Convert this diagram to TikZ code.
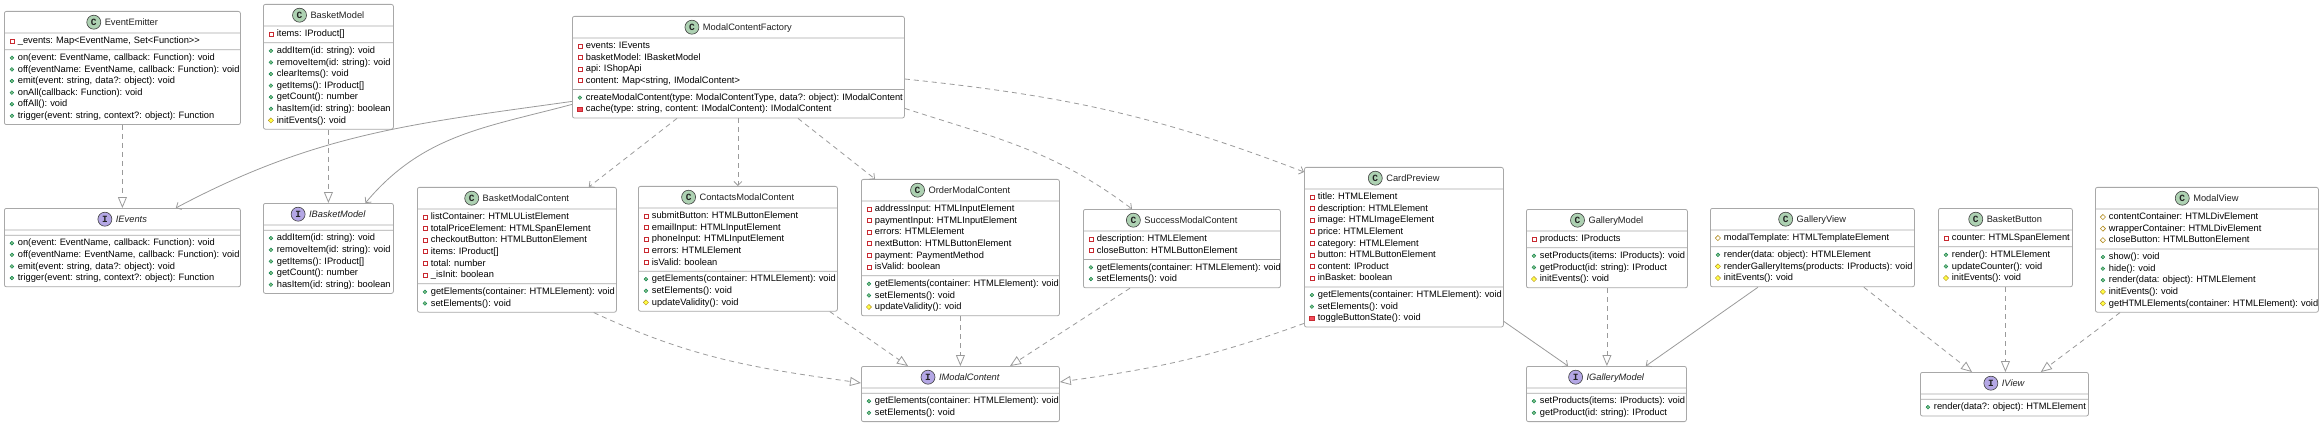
\documentclass[tikz,border=0pt]{standalone}
\usepackage{fontspec}
\setmainfont{Liberation Sans}
\setmonofont{Liberation Mono}
\usetikzlibrary{arrows.meta, shapes.multipart}
\definecolor{boxgray}{HTML}{A8A8A8}
\definecolor{linegray}{HTML}{9A9A9A}
\definecolor{textgray}{HTML}{222222}
\definecolor{privred}{HTML}{C82930}
\definecolor{privfill}{HTML}{F24D5C}
\definecolor{pubgreen}{HTML}{038048}
\definecolor{pubfill}{HTML}{84BE84}
\definecolor{protbrown}{HTML}{B38D22}
\definecolor{protfill}{HTML}{FFFF44}
\definecolor{classfill}{HTML}{ADD1B2}
\definecolor{ifacefill}{HTML}{B4A7E5}
\setlength{\parindent}{0pt}
\frenchspacing

\newcommand{\spot}[2]{\makebox[14pt][c]{\tikz[baseline=-3.2pt]\draw[draw=black!75, fill=#1, line width=0.6pt] (0,0) circle (7pt);}\hspace*{-14pt}\makebox[14pt][c]{\fontsize{9.5}{9.5}\ttfamily\bfseries #2}}
\newcommand{\clshead}[1]{\makebox[\hsize][c]{\rule[-5pt]{0pt}{16.4pt}\spot{classfill}{C}\hspace{4pt}#1}}
\newcommand{\ifchead}[1]{\makebox[\hsize][c]{\rule[-5pt]{0pt}{16.4pt}\spot{ifacefill}{I}\hspace{4pt}\textit{#1}}}
\newcommand{\member}[2]{\mbox{\strut\makebox[6pt][c]{#1}\hspace{3pt}#2}}
\newcommand{\privfield}[1]{\member{\tikz[baseline=-2.7pt]\draw[privred, fill=white, sharp corners, line width=0.7pt] (-2pt,-2pt) rectangle (2pt,2pt);}{#1}}
\newcommand{\privmeth}[1]{\member{\tikz[baseline=-2.7pt]\draw[privred, fill=privfill, sharp corners, line width=0.6pt] (-2.2pt,-2.2pt) rectangle (2.2pt,2.2pt);}{#1}}
\newcommand{\pubmeth}[1]{\member{\tikz[baseline=-2.7pt]\draw[pubgreen, fill=pubfill, line width=0.4pt] (0,0) circle (1.9pt);}{#1}}
\newcommand{\protmeth}[1]{\member{\tikz[baseline=-2.7pt]\draw[protbrown, fill=protfill, sharp corners, line width=0.4pt] (0,-2.6pt) -- (2.6pt,0) -- (0,2.6pt) -- (-2.6pt,0) -- cycle;}{#1}}
\newcommand{\protfield}[1]{\member{\tikz[baseline=-2.7pt]\draw[protbrown, fill=white, sharp corners, line width=0.6pt] (0,-2.6pt) -- (2.6pt,0) -- (0,2.6pt) -- (-2.6pt,0) -- cycle;}{#1}}

\begin{document}
\begin{tikzpicture}[
    x=1pt, y=1pt,
    umlbox/.style={rectangle split, rectangle split parts=3, draw=boxgray, line width=0.8pt,
                   fill=white, rounded corners=2pt, anchor=north west, align=left,
                   inner xsep=4.5pt, inner ysep=2.2pt, text=textgray,
                   font=\fontsize{9.3}{11.6}\selectfont},
    realize/.style={draw=linegray, line width=0.8pt, dash pattern=on 5pt off 4pt,
                    -{Triangle[open, length=11pt, width=9pt]}},
    depend/.style={draw=linegray, line width=0.8pt, dash pattern=on 5pt off 4pt,
                   -{Straight Barb[length=4pt, width=8pt]}},
    assoc/.style={draw=linegray, line width=0.8pt, -{Straight Barb[length=4pt, width=8pt]}}
  ]
    \useasboundingbox (0,0) rectangle (2322,-425);

    \node[umlbox, text width=227pt] (emitter) at (4,-11) {\clshead{EventEmitter}
      \nodepart{two}\privfield{\_events: Map<EventName, Set<Function>{}>}
      \nodepart{three}\pubmeth{on(event: EventName, callback: Function): void}\\
      \pubmeth{off(eventName: EventName, callback: Function): void}\\
      \pubmeth{emit(event: string, data?: object): void}\\
      \pubmeth{onAll(callback: Function): void}\\
      \pubmeth{offAll(): void}\\
      \pubmeth{trigger(event: string, context?: object): Function}};

    \node[umlbox, text width=121pt] (basketmodel) at (263,-4) {\clshead{BasketModel}
      \nodepart{two}\privfield{items: IProduct[]}
      \nodepart{three}\pubmeth{addItem(id: string): void}\\
      \pubmeth{removeItem(id: string): void}\\
      \pubmeth{clearItems(): void}\\
      \pubmeth{getItems(): IProduct[]}\\
      \pubmeth{getCount(): number}\\
      \pubmeth{hasItem(id: string): boolean}\\
      \protmeth{initEvents(): void}};

    \node[umlbox, text width=323pt] (factory) at (572,-16) {\clshead{ModalContentFactory}
      \nodepart{two}\privfield{events: IEvents}\\
      \privfield{basketModel: IBasketModel}\\
      \privfield{api: IShopApi}\\
      \privfield{content: Map<string, IModalContent>}
      \nodepart{three}\pubmeth{createModalContent(type: ModalContentType, data?: object): IModalContent}\\
      \privmeth{cache(type: string, content: IModalContent): IModalContent}};

    \node[umlbox, text width=227pt] (ievents) at (4,-208) {\ifchead{IEvents}
      \nodepart{two}
      \nodepart{three}\pubmeth{on(event: EventName, callback: Function): void}\\
      \pubmeth{off(eventName: EventName, callback: Function): void}\\
      \pubmeth{emit(event: string, data?: object): void}\\
      \pubmeth{trigger(event: string, context?: object): Function}};

    \node[umlbox, text width=121pt] (ibasket) at (263,-203) {\ifchead{IBasketModel}
      \nodepart{two}
      \nodepart{three}\pubmeth{addItem(id: string): void}\\
      \pubmeth{removeItem(id: string): void}\\
      \pubmeth{getItems(): IProduct[]}\\
      \pubmeth{getCount(): number}\\
      \pubmeth{hasItem(id: string): boolean}};

    \node[umlbox, text width=190pt] (basketmodal) at (417,-187) {\clshead{BasketModalContent}
      \nodepart{two}\privfield{listContainer: HTMLUListElement}\\
      \privfield{totalPriceElement: HTMLSpanElement}\\
      \privfield{checkoutButton: HTMLButtonElement}\\
      \privfield{items: IProduct[]}\\
      \privfield{total: number}\\
      \privfield{\_isInit: boolean}
      \nodepart{three}\pubmeth{getElements(container: HTMLElement): void}\\
      \pubmeth{setElements(): void}};

    \node[umlbox, text width=190pt] (contacts) at (638,-186) {\clshead{ContactsModalContent}
      \nodepart{two}\privfield{submitButton: HTMLButtonElement}\\
      \privfield{emailInput: HTMLInputElement}\\
      \privfield{phoneInput: HTMLInputElement}\\
      \privfield{errors: HTMLElement}\\
      \privfield{isValid: boolean}
      \nodepart{three}\pubmeth{getElements(container: HTMLElement): void}\\
      \pubmeth{setElements(): void}\\
      \protmeth{updateValidity(): void}};

    \node[umlbox, text width=189pt] (order) at (861,-179) {\clshead{OrderModalContent}
      \nodepart{two}\privfield{addressInput: HTMLInputElement}\\
      \privfield{paymentInput: HTMLInputElement}\\
      \privfield{errors: HTMLElement}\\
      \privfield{nextButton: HTMLButtonElement}\\
      \privfield{payment: PaymentMethod}\\
      \privfield{isValid: boolean}
      \nodepart{three}\pubmeth{getElements(container: HTMLElement): void}\\
      \pubmeth{setElements(): void}\\
      \protmeth{updateValidity(): void}};

    \node[umlbox, text width=188pt] (success) at (1083,-209) {\clshead{SuccessModalContent}
      \nodepart{two}\privfield{description: HTMLElement}\\
      \privfield{closeButton: HTMLButtonElement}
      \nodepart{three}\pubmeth{getElements(container: HTMLElement): void}\\
      \pubmeth{setElements(): void}};

    \node[umlbox, text width=190pt] (cardpreview) at (1304,-167) {\clshead{CardPreview}
      \nodepart{two}\privfield{title: HTMLElement}\\
      \privfield{description: HTMLElement}\\
      \privfield{image: HTMLImageElement}\\
      \privfield{price: HTMLElement}\\
      \privfield{category: HTMLElement}\\
      \privfield{button: HTMLButtonElement}\\
      \privfield{content: IProduct}\\
      \privfield{inBasket: boolean}
      \nodepart{three}\pubmeth{getElements(container: HTMLElement): void}\\
      \pubmeth{setElements(): void}\\
      \privmeth{toggleButtonState(): void}};

    \node[umlbox, text width=152pt] (gallerymodel) at (1526,-209) {\clshead{GalleryModel}
      \nodepart{two}\privfield{products: IProducts}
      \nodepart{three}\pubmeth{setProducts(items: IProducts): void}\\
      \pubmeth{getProduct(id: string): IProduct}\\
      \protmeth{initEvents(): void}};

    \node[umlbox, text width=195pt] (galleryview) at (1710,-208) {\clshead{GalleryView}
      \nodepart{two}\protfield{modalTemplate: HTMLTemplateElement}
      \nodepart{three}\pubmeth{render(data: object): HTMLElement}\\
      \protmeth{renderGalleryItems(products: IProducts): void}\\
      \protmeth{initEvents(): void}};

    \node[umlbox, text width=125pt] (basketbutton) at (1938,-208) {\clshead{BasketButton}
      \nodepart{two}\privfield{counter: HTMLSpanElement}
      \nodepart{three}\pubmeth{render(): HTMLElement}\\
      \pubmeth{updateCounter(): void}\\
      \protmeth{initEvents(): void}};

    \node[umlbox, text width=214pt] (modalview) at (2095,-187) {\clshead{ModalView}
      \nodepart{two}\protfield{contentContainer: HTMLDivElement}\\
      \protfield{wrapperContainer: HTMLDivElement}\\
      \protfield{closeButton: HTMLButtonElement}
      \nodepart{three}\pubmeth{show(): void}\\
      \pubmeth{hide(): void}\\
      \pubmeth{render(data: object): HTMLElement}\\
      \protmeth{initEvents(): void}\\
      \protmeth{getHTMLElements(container: HTMLElement): void}};

    \node[umlbox, text width=189pt] (imodal) at (861,-366) {\ifchead{IModalContent}
      \nodepart{two}
      \nodepart{three}\pubmeth{getElements(container: HTMLElement): void}\\
      \pubmeth{setElements(): void}};

    \node[umlbox, text width=151pt] (igallery) at (1526,-366) {\ifchead{IGalleryModel}
      \nodepart{two}
      \nodepart{three}\pubmeth{setProducts(items: IProducts): void}\\
      \pubmeth{getProduct(id: string): IProduct}};

    \node[umlbox, text width=159pt] (iview) at (1920,-372) {\ifchead{IView}
      \nodepart{two}
      \nodepart{three}\pubmeth{render(data?: object): HTMLElement}};

    \draw[realize] (emitter.south) -- (ievents.north);
    \draw[realize] (basketmodel.south) -- (ibasket.north);
    \draw[assoc] ([yshift=17pt]factory.south west) to[out=188, in=28] ([xshift=-65pt]ievents.north east);
    \draw[assoc] ([yshift=14pt]factory.south west) to[out=195, in=50] ([xshift=37pt]ibasket.north);

    \draw[depend] ([xshift=105pt]factory.south west) -- ([xshift=-28pt]basketmodal.north east);
    \draw[depend] (factory.south -| contacts.north) -- (contacts.north);
    \draw[depend] ([xshift=226pt]factory.south west) -- ([xshift=14pt]order.north west);
    \draw[depend] ([yshift=10pt]factory.south east) to[out=-18, in=143] ([xshift=49pt]success.north west);
    \draw[depend] ([yshift=-63pt]factory.north east) to[out=-6, in=159] ([yshift=-5pt]cardpreview.north west);

    \draw[realize] ([xshift=-23pt]basketmodal.south east) to[out=-25, in=172] ([yshift=-17pt]imodal.north west);
    \draw[realize] ([xshift=-8pt]contacts.south east) -- ([xshift=47pt]imodal.north west);
    \draw[realize] (order.south) -- (imodal.north);
    \draw[realize] ([xshift=47pt]success.south west) -- ([xshift=149pt]imodal.north west);
    \draw[realize] ([yshift=4pt]cardpreview.south west) to[out=200, in=8] ([yshift=-16pt]imodal.north east);

    \draw[assoc] ([yshift=6pt]cardpreview.south east) -- ([xshift=42pt]igallery.north west);
    \draw[realize] (gallerymodel.south) -- (gallerymodel.south |- igallery.north);
    \draw[assoc] ([xshift=48pt]galleryview.south west) -- ([xshift=-41pt]igallery.north east);

    \draw[realize] ([xshift=-51pt]galleryview.south east) -- ([xshift=52pt]iview.north west);
    \draw[realize] (basketbutton.south) -- (basketbutton.south |- iview.north);
    \draw[realize] ([xshift=25pt]modalview.south west) -- ([xshift=-48pt]iview.north east);
  \end{tikzpicture}
\end{document}
